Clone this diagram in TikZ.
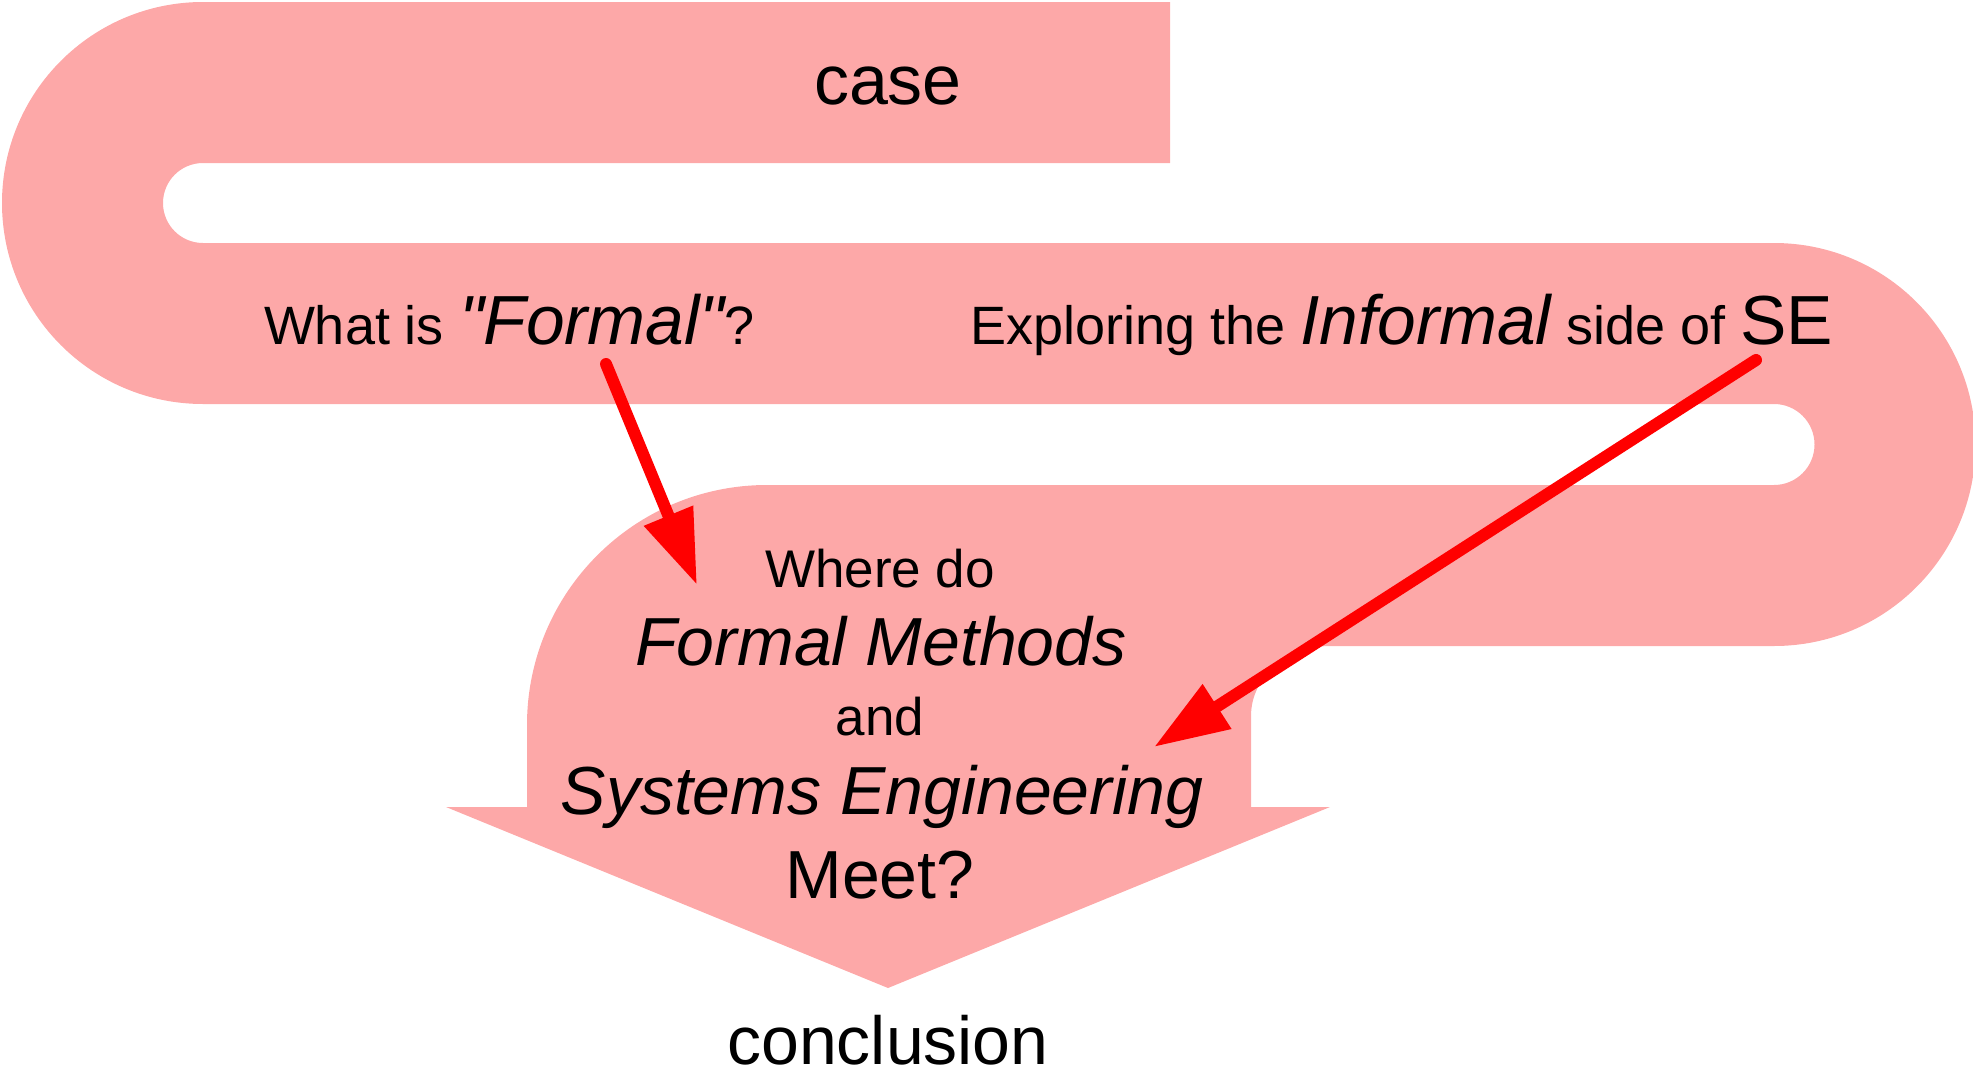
\documentclass[tikz,border=0pt]{standalone}
\usepackage{fontspec}
\setmainfont{Liberation Sans}[Ligatures=TeXOff]
\usetikzlibrary{arrows.meta}
\definecolor{bandpink}{RGB}{253,168,168}
\definecolor{arrowred}{RGB}{255,0,0}
\newcommand\szS{\fontsize{53}{60}\selectfont}
\newcommand\szL{\fontsize{68}{76}\selectfont}
\newcommand\szRS{\fontsize{54}{61}\selectfont}
\newcommand\szRL{\fontsize{69.5}{78}\selectfont}
\newcommand\szC{\fontsize{70}{78}\selectfont}
\begin{document}
\begin{tikzpicture}[x=1pt,y=-1pt,
  lbl/.style={inner sep=0pt, outer sep=0pt, anchor=base, text=black},
  pointer/.style={draw=arrowred, fill=arrowred, line width=12pt, line cap=round,
    -{Triangle[length=75pt,width=50pt]}}]
\useasboundingbox (0,0) rectangle (1973,1071);
% the winding band ending in a big arrow
\fill[bandpink] (1170,2) -- (203,2)
  arc[start angle=270,end angle=90,radius=201]
  -- (1774,404)
  arc[start angle=-90,end angle=90,radius=40.5]
  -- (767,485)
  arc[start angle=270,end angle=180,radius=240]
  -- (527,807) -- (446,807) -- (888,988) -- (1330,807) -- (1251,807)
  -- (1251,716)
  arc[start angle=180,end angle=270,x radius=79,y radius=70]
  -- (1774,646)
  arc[start angle=90,end angle=-90,radius=201.5]
  -- (203,243)
  arc[start angle=90,end angle=270,radius=40]
  -- (1170,163) -- cycle;
% texts
\node[lbl, font=\szC] (case) at (888,104) {case};
\node[lbl, anchor=base west, font=\szRS] (formalq) at (264,344) {What is {\szRL\itshape "Formal"}?};
\node[lbl, anchor=base west, font=\szRS] (informal) at (970,344) {Exploring the {\szRL\itshape Informal} side of {\szRL SE}};
\node[lbl, font=\szS] (where) at (880,587) {Where do};
\node[lbl, font=\szL\itshape] (fm) at (881,665) {Formal Methods};
\node[lbl, font=\szS] (and) at (880,735) {and};
\node[lbl, font=\szL\itshape] (syseng) at (882,814) {Systems Engineering};
\node[lbl, font=\szL] (meet) at (880,898) {Meet?};
\node[lbl, font=\szL] (concl) at (888,1064) {conclusion};
% pointers
\coordinate (p1s) at (606,364);
\coordinate (p1e) at (697,585);
\coordinate (p2s) at (1756,360);
\coordinate (p2e) at (1154,747);
\draw[pointer] (p1s) -- (p1e);
\draw[pointer] (p2s) -- (p2e);
\end{tikzpicture}
\end{document}
